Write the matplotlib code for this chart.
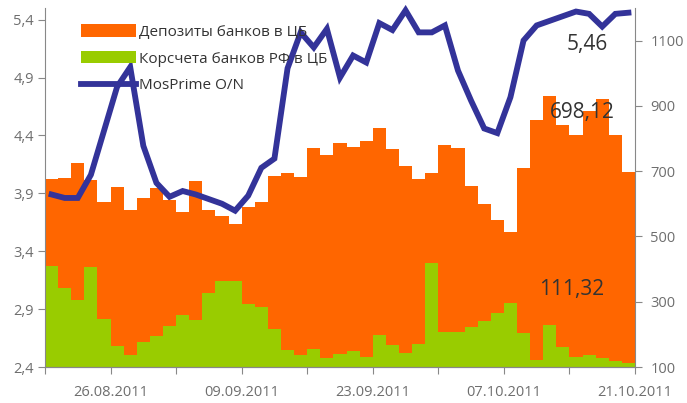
import numpy as np
import matplotlib.pyplot as plt

plt.rcParams['font.family'] = ['Open Sans', 'DejaVu Sans']

# business days 22.08.2011 .. 21.10.2011
deposits = [676, 679, 725, 673, 605, 651, 581, 618, 648, 612,
            575, 670, 581, 563, 538, 590, 605, 685, 694, 682,
            771, 749, 786, 774, 792, 832, 768, 716, 676, 694,
            780, 771, 654, 599, 550, 513, 710, 857, 930, 841,
            811, 884, 921, 811, 698.12]
korscheta = [409, 342, 305, 406, 247, 164, 137, 177, 195, 226,
             259, 244, 327, 363, 363, 293, 284, 216, 152, 137,
             155, 128, 140, 149, 131, 198, 168, 143, 170, 419,
             207, 207, 223, 241, 265, 296, 204, 121, 229, 161,
             131, 137, 128, 118, 111.32]
mosprime = [3.89, 3.86, 3.86, 4.06, 4.44, 4.82, 4.99, 4.31, 3.99, 3.87,
            3.92, 3.89, 3.85, 3.81, 3.75, 3.88, 4.12, 4.20, 4.98, 5.29,
            5.16, 5.32, 4.90, 5.09, 5.03, 5.37, 5.31, 5.48, 5.29, 5.29,
            5.35, 4.96, 4.70, 4.46, 4.42, 4.73, 5.22, 5.35, 5.39, 5.43,
            5.47, 5.45, 5.34, 5.45, 5.46]
date_labels = ['', '26.08.2011', '', '09.09.2011', '', '23.09.2011',
               '', '07.10.2011', '', '21.10.2011']

orange = '#FF6600'
green = '#99CC00'
blue = '#333399'
grey = '#888888'
tick_c = '#6e6e6e'

fig = plt.figure(figsize=(6.87, 4.03), dpi=100)
ax = fig.add_axes([0.0655, 0.0893, 0.8588, 0.8907])
ax2 = ax.twinx()

x = np.arange(len(deposits)) + 0.5
b1 = ax2.bar(x, np.array(deposits) - 100, bottom=100, width=1.0, color=orange,
             label='Депозиты банков в ЦБ')
b2 = ax2.bar(x, np.array(korscheta) - 100, bottom=100, width=1.0, color=green,
             label='Корсчета банков РФ в ЦБ')
ln, = ax.plot(x, mosprime, color=blue, lw=4.2, solid_joinstyle='miter',
              label='MosPrime O/N', clip_on=False)

ax.set_zorder(ax2.get_zorder() + 1)
ax.patch.set_visible(False)

ax.set_xlim(0, len(deposits))
ax.set_ylim(2.4, 5.5)
ax2.set_ylim(100, 1200)

ax.set_yticks([2.4, 2.9, 3.4, 3.9, 4.4, 4.9, 5.4])
ax.set_yticklabels(['2,4', '2,9', '3,4', '3,9', '4,4', '4,9', '5,4'])
ax2.set_yticks([100, 300, 500, 700, 900, 1100])
ax.set_xticks(np.arange(0, 46, 5))
ax.set_xticklabels(date_labels)

for a in (ax, ax2):
    a.spines['top'].set_visible(False)
    for s in ('left', 'right', 'bottom'):
        a.spines[s].set_color(grey)
    a.tick_params(colors=grey, labelcolor=tick_c, labelsize=10.5, length=5)
ax.spines['right'].set_visible(False)
ax2.spines['left'].set_visible(False)
ax.tick_params(axis='y', pad=3)
ax2.tick_params(axis='y', pad=6)
ax.tick_params(axis='x', pad=8)

ax.annotate('5,46', xy=(x[-1], mosprime[-1]), xytext=(-30, -23),
            textcoords='offset points', ha='center', va='center',
            fontsize=15, color='#333333')
ax2.annotate('698,12', xy=(x[-1], deposits[-1]), xytext=(-33, 43),
             textcoords='offset points', ha='center', va='center',
             fontsize=15, color='#333333')
ax2.annotate('111,32', xy=(x[-1], korscheta[-1]), xytext=(-41, 53),
             textcoords='offset points', ha='center', va='center',
             fontsize=15, color='#333333')

leg = ax.legend(handles=[b1, b2, ln], loc='upper left',
                bbox_to_anchor=(0.045, 0.98), frameon=False, fontsize=11,
                handlelength=3.6, handleheight=0.85, labelspacing=0.75,
                handletextpad=0.2, borderaxespad=0.2)
for t in leg.get_texts():
    t.set_color('#333333')

fig.savefig('out.png', dpi=100)
